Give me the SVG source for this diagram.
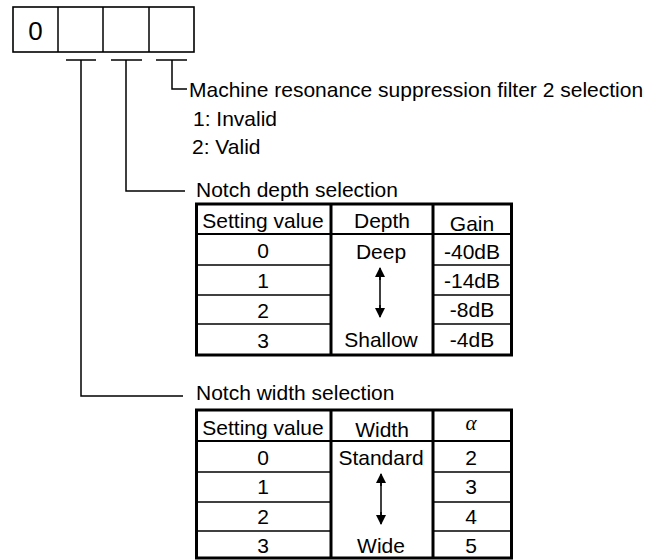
<svg xmlns="http://www.w3.org/2000/svg" width="651" height="560" viewBox="0 0 651 560">
<defs>
<style>
text{font-family:"Liberation Sans",Arial,sans-serif;font-size:21px;fill:#000}
.c{text-anchor:middle}
.ln{stroke:#000;stroke-width:1.5;fill:none}
.thick{stroke:#000;stroke-width:3;fill:none}
.hdr{stroke:#000;stroke-width:2.2;fill:none}
.row{stroke:#000;stroke-width:1.3;fill:none}
</style>
<marker id="ah" viewBox="0 0 10 10" refX="9" refY="5" markerWidth="10" markerHeight="10" markerUnits="userSpaceOnUse" orient="auto">
<path d="M0,0 L10,5 L0,10 Z" fill="#000"/>
</marker>
</defs>
<rect width="651" height="560" fill="#fff"/>

<g id="digits">
<rect x="13" y="7" width="181" height="45" fill="none" stroke="#000" stroke-width="1.6"/>
<line class="ln" x1="58" y1="7" x2="58" y2="52" stroke-width="2"/>
<line class="ln" x1="103" y1="7" x2="103" y2="52" stroke-width="2"/>
<line class="ln" x1="149" y1="7" x2="149" y2="52" stroke-width="2"/>
<text x="35.5" y="40" class="c" style="font-size:26px">0</text>
</g>

<g id="connectors">
<line class="ln" x1="66" y1="60" x2="96" y2="60" stroke-width="2"/>
<line class="ln" x1="111" y1="60" x2="142" y2="60" stroke-width="2"/>
<line class="ln" x1="156" y1="60" x2="187" y2="60" stroke-width="2"/>
<polyline class="ln" points="172,60 172,89 187,89"/>
<polyline class="ln" points="126,60 126,191 185,191"/>
<polyline class="ln" points="81,60 81,396 183,396"/>
</g>

<g id="filter2">
<text x="189" y="97">Machine resonance suppression filter 2 selection</text>
<text x="193" y="126">1: Invalid</text>
<text x="192" y="154">2: Valid</text>
</g>

<g id="depth-table">
<text x="196" y="197">Notch depth selection</text>
<rect x="196.5" y="204" width="315" height="151" class="thick"/>
<line class="thick" x1="331" y1="204" x2="331" y2="355"/>
<line class="thick" x1="433" y1="204" x2="433" y2="355"/>
<line class="hdr" x1="196" y1="234" x2="512" y2="234"/>
<line class="row" x1="196" y1="265" x2="331" y2="265"/>
<line class="row" x1="196" y1="295" x2="331" y2="295"/>
<line class="row" x1="196" y1="324" x2="331" y2="324"/>
<line class="row" x1="433" y1="265" x2="512" y2="265"/>
<line class="row" x1="433" y1="295" x2="512" y2="295"/>
<line class="row" x1="433" y1="324" x2="512" y2="324"/>
<text x="263" y="228" class="c">Setting value</text>
<text x="382" y="228" class="c">Depth</text>
<text x="472" y="231" class="c">Gain</text>
<text x="263" y="258" class="c">0</text>
<text x="263" y="288" class="c">1</text>
<text x="263" y="318" class="c">2</text>
<text x="263" y="348" class="c">3</text>
<text x="381" y="259" class="c">Deep</text>
<text x="381" y="347" class="c">Shallow</text>
<text x="472" y="259" class="c">-40dB</text>
<text x="472" y="288" class="c">-14dB</text>
<text x="472" y="317" class="c">-8dB</text>
<text x="472" y="347" class="c">-4dB</text>
<line class="ln" x1="380" y1="280" x2="380" y2="268" marker-end="url(#ah)"/>
<line class="ln" x1="380" y1="305" x2="380" y2="317" marker-end="url(#ah)"/>
<line class="ln" x1="380" y1="275" x2="380" y2="310"/>
</g>

<g id="width-table">
<text x="196" y="400">Notch width selection</text>
<rect x="196.5" y="410" width="315" height="148" class="thick"/>
<line class="thick" x1="331" y1="410" x2="331" y2="558"/>
<line class="thick" x1="433" y1="410" x2="433" y2="558"/>
<line class="hdr" x1="196" y1="441" x2="512" y2="441"/>
<line class="row" x1="196" y1="472" x2="331" y2="472"/>
<line class="row" x1="196" y1="502" x2="331" y2="502"/>
<line class="row" x1="196" y1="531" x2="331" y2="531"/>
<line class="row" x1="433" y1="472" x2="512" y2="472"/>
<line class="row" x1="433" y1="502" x2="512" y2="502"/>
<line class="row" x1="433" y1="531" x2="512" y2="531"/>
<text x="263" y="435" class="c">Setting value</text>
<text x="382" y="437" class="c">Width</text>
<text x="471" y="430" class="c" style="font-family:'Liberation Serif',serif;font-style:italic">α</text>
<text x="263" y="465" class="c">0</text>
<text x="263" y="494" class="c">1</text>
<text x="263" y="524" class="c">2</text>
<text x="263" y="553" class="c">3</text>
<text x="381" y="465" class="c">Standard</text>
<text x="381" y="553" class="c">Wide</text>
<text x="471" y="465" class="c">2</text>
<text x="471" y="494" class="c">3</text>
<text x="471" y="524" class="c">4</text>
<text x="471" y="553" class="c">5</text>
<line class="ln" x1="381" y1="486" x2="381" y2="474" marker-end="url(#ah)"/>
<line class="ln" x1="381" y1="512" x2="381" y2="524" marker-end="url(#ah)"/>
<line class="ln" x1="381" y1="480" x2="381" y2="518"/>
</g>
</svg>
